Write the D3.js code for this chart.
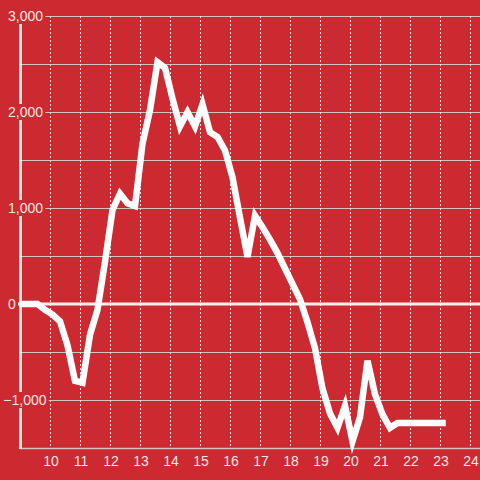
<!DOCTYPE html>
<meta charset="utf-8">

<head>
    <!-- Load d3.js -->
    <script src="https://d3js.org/d3.v7.min.js"></script>

    <style>
        body { margin: 0; background: #cd2930; }
        text { font-family: "Liberation Sans", Arial, sans-serif; font-size: 14px; fill: #f8e6e6; }
    </style>
</head>

<body>
    <div id="my_dataviz"></div>
    <script>

        // hours of the day, one reading every 15 minutes from 9:05 to 23:05
        var hours = d3.range(57).map(function (i) { return 9 + 1 / 12 + i / 4; });

        // values
        var values = [
            0, 0, 0, -60, -110, -180, -430, -800, -820, -320,
            -60, 440, 980, 1150, 1050, 1020, 1670, 2020, 2520, 2460,
            2140, 1850, 2000, 1850, 2080, 1790, 1740, 1600, 1320, 900,
            490, 920, 800, 670, 530, 370, 210, 50, -190, -460,
            -880, -1140, -1290, -1060, -1430, -1180, -590, -940, -1150, -1290,
            -1240, -1240, -1240, -1240, -1240, -1240, -1240
        ];

        var xTicks = [10, 11, 12, 13, 14, 15, 16, 17, 18, 19, 20, 21, 22, 23, 24];
        var yLabels = [3000, 2000, 1000, 0, -1000];
        var yGrid = [-1500, -1000, -500, 500, 1000, 1500, 2000, 2500, 3000];

        var width = 480, height = 480;
        var bg = "#cd2930";

        var svg = d3.select("#my_dataviz").append("svg")
            .attr("width", width)
            .attr("height", height);

        svg.append("rect").attr("width", width).attr("height", height).attr("fill", bg);

        var x = d3.scaleLinear().domain([9, 24 + 1 / 3]).range([20, 480]);
        var y = d3.scaleLinear().domain([-1500, 3000]).range([448, 16]);

        // horizontal grid
        svg.append("g").selectAll("line")
            .data(yGrid)
            .enter().append("line")
            .attr("x1", x(9)).attr("x2", width)
            .attr("y1", function (d) { return y(d) + 0.5; })
            .attr("y2", function (d) { return y(d) + 0.5; })
            .attr("stroke", "#d0c4c4")
            .attr("stroke-width", function (d) { return d === -1500 ? 1.6 : 1; });

        // vertical dotted grid
        svg.append("g").selectAll("line")
            .data(xTicks)
            .enter().append("line")
            .attr("x1", function (d) { return Math.round(x(d)) + 0.5; })
            .attr("x2", function (d) { return Math.round(x(d)) + 0.5; })
            .attr("y1", y(3000)).attr("y2", y(-1500))
            .attr("stroke", "#ecdada")
            .attr("stroke-dasharray", "2,2");

        // zero line
        svg.append("line")
            .attr("x1", 17).attr("x2", width)
            .attr("y1", y(0)).attr("y2", y(0))
            .attr("stroke", "#fbeeee")
            .attr("stroke-width", 3.2);

        // y axis line
        svg.append("line")
            .attr("x1", 20.5).attr("x2", 20.5)
            .attr("y1", y(3000)).attr("y2", y(-1500) + 1)
            .attr("stroke", "#f4eaea")
            .attr("stroke-width", 2.8);

        // the data line
        svg.append("clipPath").attr("id", "clip")
            .append("rect").attr("x", x(9)).attr("y", 0).attr("width", width).attr("height", height);

        var line = d3.line()
            .x(function (d, i) { return x(hours[i]); })
            .y(function (d) { return y(d); });

        svg.append("path")
            .datum(values)
            .attr("clip-path", "url(#clip)")
            .attr("fill", "none")
            .attr("stroke", "#ffffff")
            .attr("stroke-width", 6.5)
            .attr("stroke-linecap", "square")
            .attr("stroke-linejoin", "miter")
            .attr("d", line);

        // x tick labels
        svg.append("g").selectAll("text")
            .data(xTicks)
            .enter().append("text")
            .attr("x", function (d) { return x(d) + 1; })
            .attr("y", 466)
            .attr("text-anchor", "middle")
            .text(function (d) { return d; });

        // y labels, with a background box that hides the axis and grid behind them
        var fmt = d3.format(",");
        var lab = svg.append("g").selectAll("g")
            .data(yLabels)
            .enter().append("g");

        lab.append("rect").attr("fill", bg);
        lab.append("text")
            .attr("x", function (d) { return d < 0 ? 3.3 : 8; })
            .attr("y", function (d) { return y(d) + 5; })
            .text(function (d) { return fmt(d); });

        lab.each(function () {
            var g = d3.select(this);
            var b = g.select("text").node().getBBox();
            g.select("rect")
                .attr("x", b.x - 2).attr("y", b.y)
                .attr("width", b.width + 4).attr("height", b.height);
        });

    </script>
</body>
